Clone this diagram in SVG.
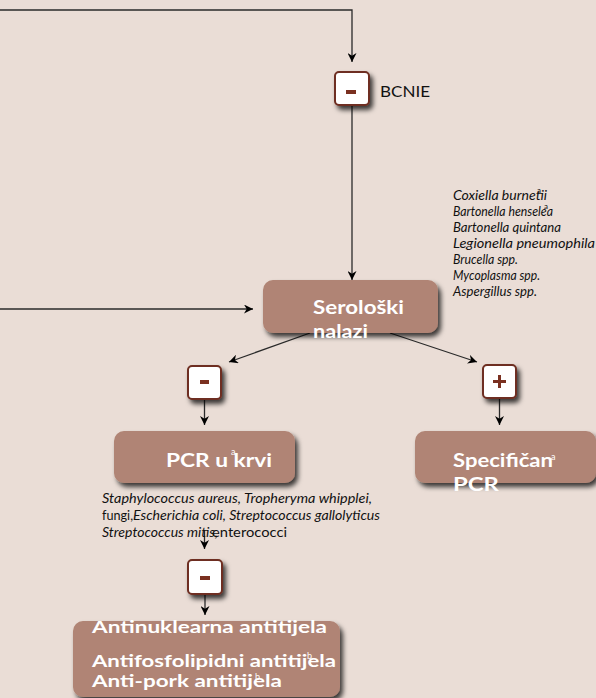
<svg xmlns="http://www.w3.org/2000/svg" width="596" height="698" viewBox="0 0 596 698">
<defs>
<filter id="sh" x="-20%" y="-20%" width="150%" height="160%">
<feDropShadow dx="3" dy="4" stdDeviation="2.5" flood-color="#000" flood-opacity="0.75"/>
</filter>
<marker id="ah" viewBox="0 0 10 10" refX="10" refY="5" markerWidth="9" markerHeight="9" markerUnits="userSpaceOnUse" orient="auto">
<path d="M0,0 L10,5 L0,10 L3,5 Z" fill="#000"/>
</marker>
<style>
.ln{fill:none;stroke:#2a2a2a;stroke-width:1.3}
.node{fill:#b08474;filter:url(#sh)}
.box{fill:#fff;stroke:#6e2f20;stroke-width:2;filter:url(#sh)}
.sign{fill:#7a3020}
.nt{font-family:Lato,"Open Sans",sans-serif;font-weight:bold;font-size:19.5px;fill:#fff}
.nt2{font-family:Lato,"Open Sans",sans-serif;font-weight:bold;font-size:17px;fill:#fff}
.it{font-family:Lato,"Open Sans",sans-serif;font-style:italic;font-size:13px;fill:#111}
.rg{font-family:Lato,"Open Sans",sans-serif;font-size:13px;fill:#111}
.sup{font-family:Lato,"Open Sans",sans-serif;font-size:8px;fill:#111}
.supw{font-family:Lato,"Open Sans",sans-serif;font-size:9px;fill:#fff}
.lbl{font-family:Lato,"Open Sans",sans-serif;font-size:15px;fill:#111}
</style>
</defs>
<rect width="596" height="698" fill="#eaddd6"/>
<g id="connectors">
<path class="ln" d="M0,10 H352 V62" marker-end="url(#ah)"/>
<path class="ln" d="M352,106 V280" marker-end="url(#ah)"/>
<path class="ln" d="M0,309 H253" marker-end="url(#ah)"/>
<path class="ln" d="M310,333 L229,362" marker-end="url(#ah)"/>
<path class="ln" d="M390,333 L477,362" marker-end="url(#ah)"/>
<path class="ln" d="M204.5,399 V425" marker-end="url(#ah)"/>
<path class="ln" d="M499.5,398 V425" marker-end="url(#ah)"/>
<path class="ln" d="M204.5,530 V549" marker-end="url(#ah)"/>
<path class="ln" d="M205,594 V615" marker-end="url(#ah)"/>
</g>
<g id="bcnie">
<rect class="box" x="335" y="72" width="34" height="33" rx="4"/>
<rect class="sign" x="346" y="90" width="10" height="4"/>
<text class="lbl" x="380" y="97" textLength="50" lengthAdjust="spacingAndGlyphs">BCNIE</text>
</g>
<g id="species">
<text class="it" x="453" y="199.5" textLength="94" lengthAdjust="spacingAndGlyphs">Coxiella burnetii</text>
<text class="sup" x="537" y="193">a</text>
<text class="it" x="453" y="215.5" textLength="100" lengthAdjust="spacingAndGlyphs">Bartonella henselea</text>
<text class="sup" x="544" y="209">a</text>
<text class="it" x="453" y="232" textLength="108" lengthAdjust="spacingAndGlyphs">Bartonella quintana</text>
<text class="it" x="453" y="248" textLength="142" lengthAdjust="spacingAndGlyphs">Legionella pneumophila</text>
<text class="it" x="453" y="264" textLength="65" lengthAdjust="spacingAndGlyphs">Brucella spp.</text>
<text class="it" x="453" y="280" textLength="87" lengthAdjust="spacingAndGlyphs">Mycoplasma spp.</text>
<text class="it" x="453" y="296" textLength="84" lengthAdjust="spacingAndGlyphs">Aspergillus spp.</text>
</g>
<g id="serologija">
<rect class="node" x="263" y="280" width="175" height="53" rx="10"/>
<text class="nt" x="313" y="314" textLength="91" lengthAdjust="spacingAndGlyphs">Serološki</text>
<text class="nt" x="313" y="338" textLength="55" lengthAdjust="spacingAndGlyphs">nalazi</text>
</g>
<g id="minus1">
<rect class="box" x="188" y="366" width="33" height="33" rx="4"/>
<rect class="sign" x="200" y="380" width="9" height="4"/>
</g>
<g id="plus1">
<rect class="box" x="483" y="365" width="33" height="33" rx="4"/>
<rect class="sign" x="493" y="380" width="13" height="3"/>
<rect class="sign" x="498" y="375" width="3" height="13"/>
</g>
<g id="pcr">
<rect class="node" x="114" y="431" width="181" height="52" rx="10"/>
<text class="nt" x="166" y="467" textLength="106" lengthAdjust="spacingAndGlyphs">PCR u krvi</text>
<text class="supw" x="231" y="455">a</text>
</g>
<g id="specifican">
<rect class="node" x="415" y="431" width="181" height="52" rx="10"/>
<text class="nt" x="453" y="467" textLength="100" lengthAdjust="spacingAndGlyphs">Specifičan</text>
<text class="supw" x="551" y="460">a</text>
<text class="nt" x="453" y="491" textLength="46" lengthAdjust="spacingAndGlyphs">PCR</text>
</g>
<g id="organisms">
<text class="it" x="102" y="503" textLength="270" lengthAdjust="spacingAndGlyphs">Staphylococcus aureus, Tropheryma whipplei,</text>
<text class="rg" x="102" y="520" textLength="31" lengthAdjust="spacingAndGlyphs">fungi,</text>
<text class="it" x="133" y="520" textLength="247" lengthAdjust="spacingAndGlyphs">Escherichia coli, Streptococcus gallolyticus</text>
<text class="it" x="102" y="537" textLength="116" lengthAdjust="spacingAndGlyphs">Streptococcus mitis,</text>
<text class="rg" x="212" y="537" textLength="75" lengthAdjust="spacingAndGlyphs">enterococci</text>
</g>
<g id="minus2">
<rect class="box" x="188" y="560" width="34" height="34" rx="4"/>
<rect class="sign" x="200" y="576" width="10" height="4"/>
</g>
<g id="antitijela">
<rect class="node" x="73" y="621" width="267" height="76" rx="10"/>
<text class="nt2" x="92" y="633" textLength="235" lengthAdjust="spacingAndGlyphs">Antinuklearna antitijela</text>
<text class="nt2" x="92" y="667" textLength="244" lengthAdjust="spacingAndGlyphs">Antifosfolipidni antitijela</text>
<text class="supw" x="307" y="659">b</text>
<text class="nt2" x="92" y="687" textLength="190" lengthAdjust="spacingAndGlyphs">Anti-pork antitijela</text>
<text class="supw" x="255" y="680">b</text>
</g>
</svg>
